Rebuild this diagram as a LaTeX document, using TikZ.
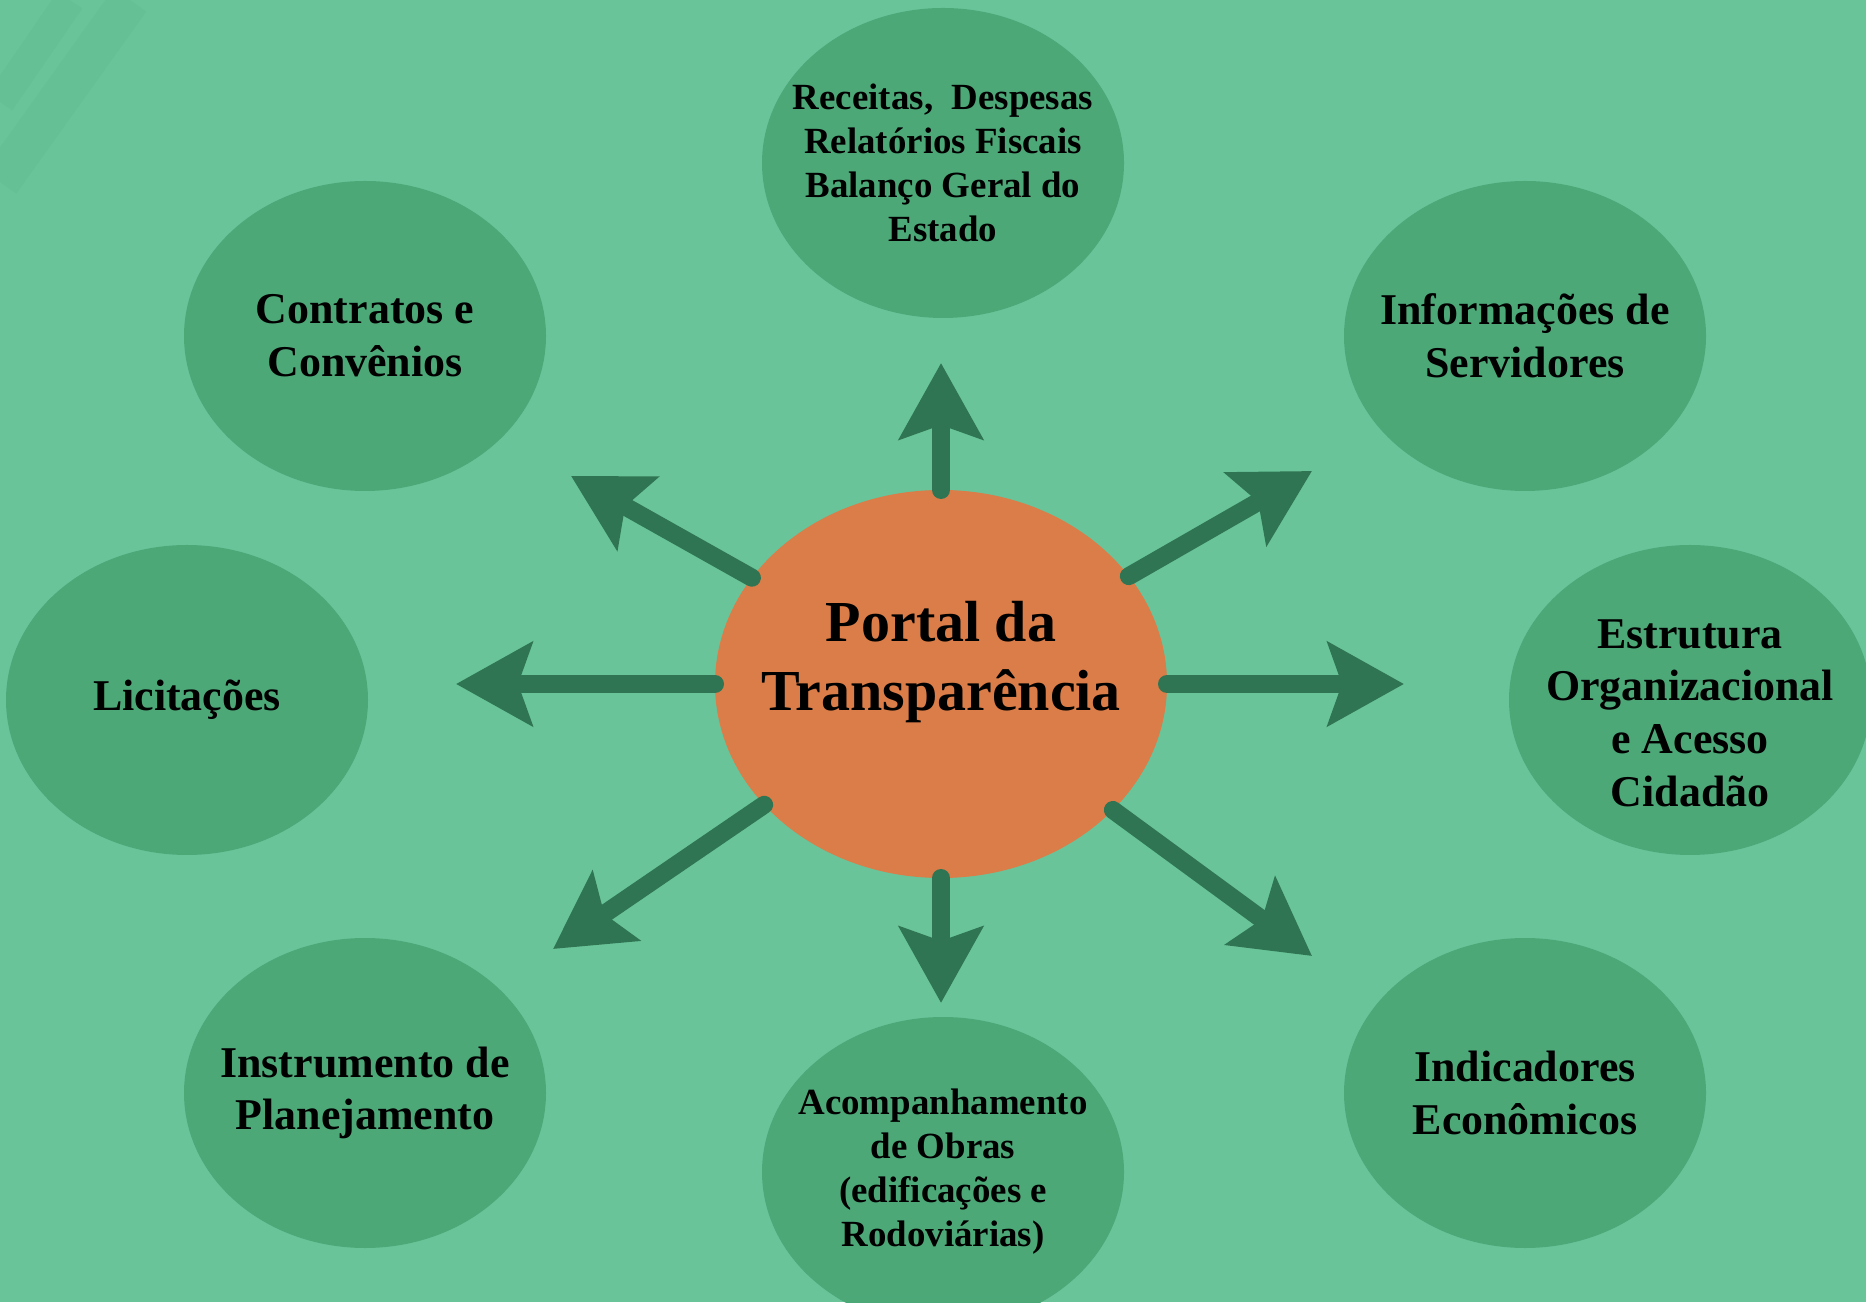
\documentclass[tikz,border=0pt]{standalone}
\usepackage{fontspec}
\setmainfont{Liberation Serif}
\usetikzlibrary{shapes.geometric, arrows.meta}

\definecolor{bggreen}{HTML}{69C49A}
\definecolor{topicgreen}{HTML}{4DA878}
\definecolor{arrowgreen}{HTML}{2F7553}
\definecolor{huborange}{HTML}{DB7D48}

\begin{document}
\begin{tikzpicture}[x=1cm, y=1cm,
  topic/.style={ellipse, fill=topicgreen, minimum width=3.62cm, minimum height=3.10cm, inner sep=0pt, outer sep=0pt},
  topictext/.style={font=\bfseries\fontsize{12.5}{15}\selectfont, align=center, text=black},
  smalltext/.style={font=\bfseries\fontsize{10.5}{12.5}\selectfont, align=center, text=black},
  hubtext/.style={font=\bfseries\fontsize{16.5}{19.5}\selectfont, align=center, text=black},
  spoke/.style={draw=arrowgreen, line width=1.8mm, line cap=round, -{Stealth[length=7.6mm, width=8.3mm, inset=1.4mm]}}]

% background
\fill[bggreen] (0, 0) rectangle (18.66, 13.02);
\useasboundingbox (0, 0) rectangle (18.66, 13.02);
\draw[topicgreen, line width=4mm, opacity=0.14] (0, 11.2) -- (1.3, 13.02); % faint streaks
\draw[topicgreen, line width=3mm, opacity=0.12] (0, 12.0) -- (0.7, 13.02);

% centre
\node[ellipse, fill=huborange, minimum width=4.52cm, minimum height=3.88cm, inner sep=0pt, outer sep=0pt,
  label={[hubtext, yshift=2.2mm]center:{Portal da\\Transparência}}] (portal) at (9.41, 6.18) {};

% outer topics
\node[topic, label={[smalltext]center:{Receitas,\ \ Despesas\\Relatórios Fiscais\\Balanço Geral do\\Estado}}] (receitas) at (9.43, 11.39) {};
\node[topic, label={[topictext]center:{Contratos e\\Convênios}}] (contratos) at (3.65, 9.66) {};
\node[topic, label={[topictext]center:{Informações de\\Servidores}}] (servidores) at (15.25, 9.66) {};
\node[topic, label={[topictext]center:{Licitações}}] (licitacoes) at (1.87, 6.02) {};
\node[topic, label={[topictext, yshift=-1.3mm]center:{Estrutura\\Organizacional\\e Acesso\\Cidadão}}] (estrutura) at (16.90, 6.02) {};
\node[topic, label={[topictext]center:{Instrumento de\\Planejamento}}] (instrumento) at (3.65, 2.09) {};
\node[topic, label={[topictext]center:{Indicadores\\Econômicos}}] (indicadores) at (15.25, 2.09) {};
\node[topic, label={[smalltext]center:{Acompanhamento\\de Obras\\(edificações e\\Rodoviárias)}}] (obras) at (9.43, 1.30) {};

% arrow tips
\coordinate (tipN) at (9.41, 9.39);
\coordinate (tipNW) at (5.71, 8.26);
\coordinate (tipW) at (4.56, 6.18);
\coordinate (tipSW) at (5.53, 3.53);
\coordinate (tipS) at (9.41, 2.99);
\coordinate (tipSE) at (13.12, 3.46);
\coordinate (tipE) at (14.04, 6.18);
\coordinate (tipNE) at (13.12, 8.31);

% spokes
\draw[spoke] (portal) -- (tipN);
\draw[spoke] (portal) -- (tipNW);
\draw[spoke] (portal) -- (tipW);
\draw[spoke] (portal) -- (tipSW);
\draw[spoke] (portal) -- (tipS);
\draw[spoke] (portal) -- (tipSE);
\draw[spoke] (portal) -- (tipE);
\draw[spoke] (portal) -- (tipNE);

\end{tikzpicture}
\end{document}
